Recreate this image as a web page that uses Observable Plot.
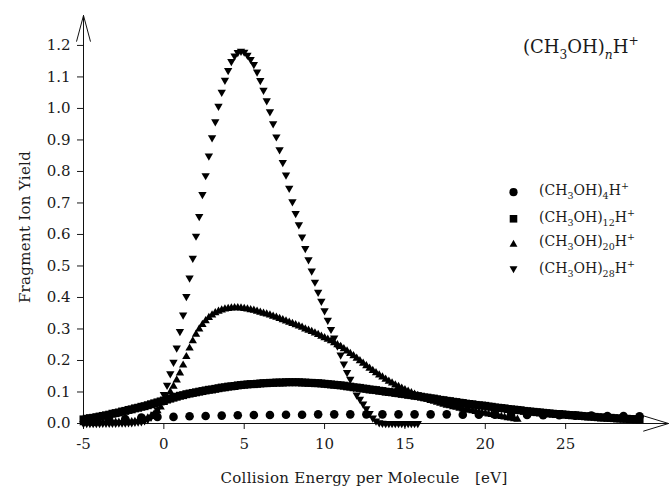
<!DOCTYPE html>
<html><head><meta charset="utf-8">
<script src="https://cdn.jsdelivr.net/npm/d3@7"></script>
<script src="https://cdn.jsdelivr.net/npm/@observablehq/plot@0.6"></script>
<style>body{margin:0;background:#fff}</style>
</head><body><div id="chart"></div>
<script>
// Collision energy grid [eV]
const energy = [
-5,-4.8,-4.6,-4.4,-4.2, -4,-3.8,-3.6,-3.4,-3.2, -3,-2.8,-2.6,-2.4,-2.2, -2,-1.8,-1.6,-1.4,-1.2,
-1,-0.8,-0.6,-0.4,-0.2, 0,0.2,0.4,0.6,0.8, 1,1.2,1.4,1.6,1.8, 2,2.2,2.4,2.6,2.8,
3,3.2,3.4,3.6,3.8, 4,4.2,4.4,4.6,4.8, 5,5.2,5.4,5.6,5.8, 6,6.2,6.4,6.6,6.8,
7,7.2,7.4,7.6,7.8, 8,8.2,8.4,8.6,8.8, 9,9.2,9.4,9.6,9.8, 10,10.2,10.4,10.6,10.8,
11,11.2,11.4,11.6,11.8, 12,12.2,12.4,12.6,12.8, 13,13.2,13.4,13.6,13.8, 14,14.2,14.4,14.6,14.8,
15,15.2,15.4,15.6,15.8, 16,16.2,16.4,16.6,16.8, 17,17.2,17.4,17.6,17.8, 18,18.2,18.4,18.6,18.8,
19,19.2,19.4,19.6,19.8, 20,20.2,20.4,20.6,20.8, 21,21.2,21.4,21.6,21.8, 22,22.2,22.4,22.6,22.8,
23,23.2,23.4,23.6,23.8, 24,24.2,24.4,24.6,24.8, 25,25.2,25.4,25.6,25.8, 26,26.2,26.4,26.6,26.8,
27,27.2,27.4,27.6,27.8, 28,28.2,28.4,28.6,28.8, 29,29.2,29.4,29.6
];
// (CH3OH)12H+  (squares)
const yieldN12 = [
.013,.015,.017,.018,.020, .022,.024,.026,.028,.031, .033,.035,.038,.040,.043, .045,.048,.050,.053,.055,
.058,.061,.064,.067,.070, .073,.076,.079,.082,.085, .088,.090,.093,.095,.097, .099,.101,.103,.105,.107,
.108,.110,.112,.114,.115, .117,.118,.119,.121,.122, .123,.124,.125,.125,.126, .127,.128,.128,.129,.129,
.130,.130,.130,.131,.131, .131,.131,.131,.130,.130, .129,.129,.128,.128,.127, .126,.125,.124,.123,.122,
.121,.120,.118,.117,.115, .114,.113,.111,.110,.108, .107,.106,.104,.103,.101, .100,.099,.097,.096,.094,
.093,.091,.090,.088,.087, .085,.083,.082,.080,.079, .077,.075,.074,.072,.071, .069,.068,.066,.065,.063,
.062,.061,.059,.058,.057, .056,.054,.053,.051,.050, .049,.048,.046,.045,.044, .043,.042,.040,.039,.038,
.037,.036,.035,.034,.033, .032,.031,.030,.030,.029, .028,.027,.026,.026,.025, .024,.023,.022,.022,.021,
.020,.019,.019,.018,.018, .017,.016,.016,.015,.015, .014,.014,.013,.013
];
// (CH3OH)20H+  (triangles up), from -5 eV
const yieldN20 = [
.002,.002,.002,.002,.002, .003,.003,.003,.003,.003, .004,.004,.004,.005,.005, .005,.006,.008,.010,.013,
.017,.022,.030,.040,.052, .066,.082,.100,.118,.138, .160,.185,.212,.239,.262, .283,.300,.314,.326,.336,
.344,.351,.356,.360,.363, .365,.366,.367,.367,.366, .365,.363,.361,.359,.356, .353,.350,.347,.344,.340,
.337,.333,.329,.325,.321, .317,.313,.309,.305,.300, .296,.292,.287,.282,.277, .272,.267,.262,.256,.250,
.244,.237,.230,.222,.215, .207,.199,.191,.183,.175, .168,.161,.154,.147,.140, .134,.128,.122,.117,.112,
.107,.102,.097,.093,.089, .085,.081,.077,.073,.070, .067,.064,.061,.058,.056, .053,.051,.048,.046,.044,
.042,.040,.038,.036,.034, .032,.030,.028,.026,.024, .022,.020,.018,.017,.015, .013
];
// (CH3OH)28H+  (triangles down), from -5 eV
const yieldN28 = [
0,0,0,0,0, 0,.001,.001,.001,.001, .001,.002,.002,.002,.003, .003,.004,.005,.006,.009,
.013,.020,.030,.044,.066, .092,.122,.158,.195,.240, .292,.345,.403,.462,.525, .595,.657,.727,.787,.849,
.907,.958,1.007,1.052,1.090, 1.121,1.149,1.167,1.178,1.182, 1.179,1.169,1.156,1.140,1.116, 1.089,1.058,1.025,.990,.952,
.910,.869,.829,.789,.747, .704,.667,.631,.592,.556, .520,.484,.449,.417,.388, .358,.328,.299,.272,.246,
.218,.189,.162,.141,.115, .091,.077,.062,.047,.032, .018,.008,.003,.001,0, 0,0,0,0,0,
0,0,0,0,0
];
// (CH3OH)4H+  (circles)
const energyN4 = [-4.4,-3.4,-2.4,-1.4,-0.4,0.6,1.6,2.6,3.6,4.6,5.6,6.6,7.6,8.6,9.6,10.6,11.6,12.6,13.6,14.6,
15.6,16.6,17.6,18.6,19.6,20.6,21.6,22.6,23.6,24.6,25.6,26.6,27.6,28.6,29.6];
const yieldN4 = [.006,.009,.014,.019,.021,.021,.023,.024,.025,.026,.027,.027,.028,.028,.029,.029,.029,.029,.029,.029,
.029,.029,.029,.028,.028,.028,.027,.027,.026,.026,.025,.025,.024,.024,.023];

const xTicks = [-5, 0, 5, 10, 15, 20, 25];
const yTicks = [0, 0.1, 0.2, 0.3, 0.4, 0.5, 0.6, 0.7, 0.8, 0.9, 1.0, 1.1, 1.2];
const xDomain = [-5, 31.4];
const yDomain = [0, 1.295];
const clusterSizes = ["4", "12", "20", "28"];
const xLabel = "Collision Energy per Molecule\u00a0\u00a0\u00a0[eV]";
const yLabel = "Fragment Ion Yield";

const tab = (xs, ys) => ys.map((y, i) => ({energy: xs[i], yield: y}));
const tN4 = tab(energyN4, yieldN4);
const tN12 = tab(energy, yieldN12);
const tN20 = tab(energy, yieldN20);
const tN28 = tab(energy, yieldN28);

const triangleDown = {
  draw(context, size) {
    const y = -Math.sqrt(size / (Math.sqrt(3) * 3));
    context.moveTo(0, -y * 2);
    context.lineTo(-Math.sqrt(3) * y, y);
    context.lineTo(Math.sqrt(3) * y, y);
    context.closePath();
  }
};
const symbols = ["circle", "square", "triangle", triangleDown];
const radii = [4.3, 4.5, 3.1, 3.1];
const legendDy = [176.7, 203.3, 228.9, 253.1];

const marks = [
  Plot.arrow([0], {x1: () => xDomain[0], y1: () => 0, x2: () => xDomain[1], y2: () => 0,
    stroke: "#111", strokeWidth: 1, headLength: 39, headAngle: 34}),
  Plot.arrow([0], {x1: () => xDomain[0], y1: () => 0, x2: () => xDomain[0], y2: () => yDomain[1],
    stroke: "#111", strokeWidth: 1, headLength: 40, headAngle: 30}),
  Plot.dot(tN4, {x: "energy", y: "yield", symbol: symbols[0], r: radii[0], fill: "black", stroke: "none"}),
  Plot.dot(tN12, {x: "energy", y: "yield", symbol: symbols[1], r: radii[1], fill: "black", stroke: "none"}),
  Plot.dot(tN20, {x: "energy", y: "yield", symbol: symbols[2], r: radii[2], fill: "black", stroke: "none"}),
  Plot.dot(tN28, {x: "energy", y: "yield", symbol: symbols[3], r: radii[3], fill: "black", stroke: "none"})
];
symbols.forEach((s, i) => {
  marks.push(Plot.dot([0], {frameAnchor: "top-left", dx: 430, dy: legendDy[i], symbol: s, r: radii[i] * 0.95, fill: "black", stroke: "none"}));
});

const plot = Plot.plot({
  width: 669, height: 489,
  marginLeft: 83, marginRight: 1, marginTop: 15, marginBottom: 66,
  style: {fontFamily: "'DejaVu Serif', serif", fontSize: "15px", color: "#1a1a1a", background: "white"},
  x: {domain: xDomain, ticks: xTicks, tickSize: 6, tickPadding: 9, tickFormat: d => String(d), label: null},
  y: {domain: yDomain, ticks: yTicks, tickSize: 6, tickPadding: 7, tickFormat: d => d.toFixed(1), label: null},
  marks
});
document.getElementById("chart").appendChild(plot);

const svg = d3.select(plot);
svg.append("text").attr("transform", "translate(30,227) rotate(-90)")
  .attr("text-anchor", "middle").attr("fill", "#1a1a1a")
  .style("font-size", "15px").style("letter-spacing", "0.3px").text(yLabel);
svg.append("text").attr("x", 364).attr("y", 483)
  .attr("text-anchor", "middle").attr("fill", "#1a1a1a")
  .style("font-size", "15px").style("letter-spacing", "0.3px").text(xLabel);

function formula(x, y, size, parts) {
  const t = svg.append("text").attr("x", x).attr("y", y).attr("text-anchor", "start")
    .attr("fill", "#1a1a1a").style("font-size", size + "px");
  let shift = 0;
  for (const p of parts) {
    const target = p.sub ? 0.32 * size : p.sup ? -0.42 * size : 0;
    const ts = t.append("tspan").attr("dy", target - shift).text(p.t);
    if (p.sub || p.sup) ts.style("font-size", (0.68 * size) + "px");
    if (p.it) ts.style("font-style", "italic");
    shift = target;
  }
}
formula(523, 53, 18, [{t: "(CH"}, {t: "3", sub: 1}, {t: "OH)"}, {t: "n", sub: 1, it: 1}, {t: "H"}, {t: "+", sup: 1}]);
const legendBaselines = [195, 221.5, 246, 272.5];
clusterSizes.forEach((n, i) => {
  formula(539, legendBaselines[i], 14, [{t: "(CH"}, {t: "3", sub: 1}, {t: "OH)"}, {t: n, sub: 1}, {t: "H"}, {t: "+", sup: 1}]);
});
</script>
</body></html>
